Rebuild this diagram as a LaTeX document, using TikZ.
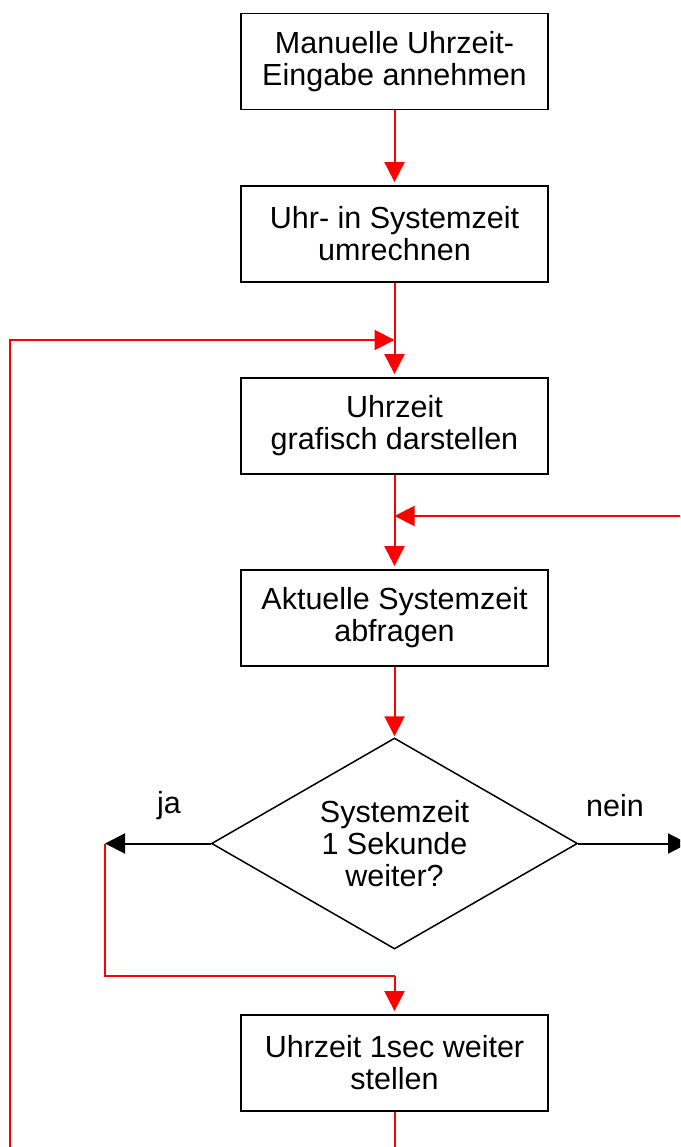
\documentclass[tikz,border=0pt]{standalone}
\usepackage{fontspec}
\setmainfont{Liberation Sans}
\usetikzlibrary{shapes.geometric,arrows.meta}
\begin{document}
\begin{tikzpicture}[x=1pt,y=-1pt,
  box/.style={draw=black,line width=1.8pt,minimum width=307pt,minimum height=96pt,inner sep=0pt,align=center,font=\fontsize{30.5}{32}\selectfont},
  dia/.style={draw=black,line width=1.5pt,diamond,minimum width=366pt,minimum height=211pt,inner sep=0pt},
  txt/.style={align=center,inner sep=0pt,font=\fontsize{30.5}{32}\selectfont},
  redline/.style={draw=red,line width=2pt},
  redarrow/.style={redline,-{Triangle[length=20pt,width=20pt]}},
  blackarrow/.style={draw=black,line width=2pt,-{Triangle[length=20pt,width=20pt]}},
  lbl/.style={font=\fontsize{30.5}{32}\selectfont}
]
\clip (0,0) rectangle (680,1147);
\useasboundingbox (0,0) rectangle (680,1147);
\node[box] (b1) at (394.5,61.5) {Manuelle Uhrzeit-\\Eingabe annehmen};
\node[box] (b2) at (394.5,234) {Uhr- in Systemzeit\\umrechnen};
\node[box] (b3) at (394.5,426) {Uhrzeit\\grafisch darstellen};
\node[box] (b4) at (394.5,618) {Aktuelle Systemzeit\\abfragen};
\node[dia] (d) at (394.5,843.5) {};
\node[txt] (dt) at (d.center) {Systemzeit\\1 Sekunde\\weiter?};
\node[box] (b5) at (394.5,1063) {Uhrzeit 1sec weiter\\stellen};
\node[lbl] (ja) at (169,806) {ja};
\node[lbl] (nein) at (615,806) {nein};

\coordinate (L0) at (10,1150);
\coordinate (L1) at (394.5,340);
\coordinate (R0) at (682,516);
\coordinate (R1) at (394.5,516);
\coordinate (J) at (105,843.5);
\coordinate (J2) at (394.5,976);
\coordinate (N) at (688,843.5);
\coordinate (B) at (394.5,1150);

\draw[redarrow,shorten >=3pt] (b1.south) -- (b2.north);
\draw[redarrow,shorten >=3pt] (b2.south) -- (b3.north);
\draw[redarrow,shorten >=3pt] (b3.south) -- (b4.north);
\draw[redarrow,shorten >=1pt] (b4.south) -- (d.north);
\draw[redarrow] (L0) |- (L1);
\draw[redarrow] (R0) -- (R1);
\draw[blackarrow] (d.west) -- (J);
\draw[blackarrow] (d.east) -- (N);
\draw[redline] (J) -- (J |- J2) -- (J2);
\draw[redarrow,shorten >=3pt] (J2) -- (b5.north);
\draw[redline] (b5.south) -- (B);
\end{tikzpicture}
\end{document}
